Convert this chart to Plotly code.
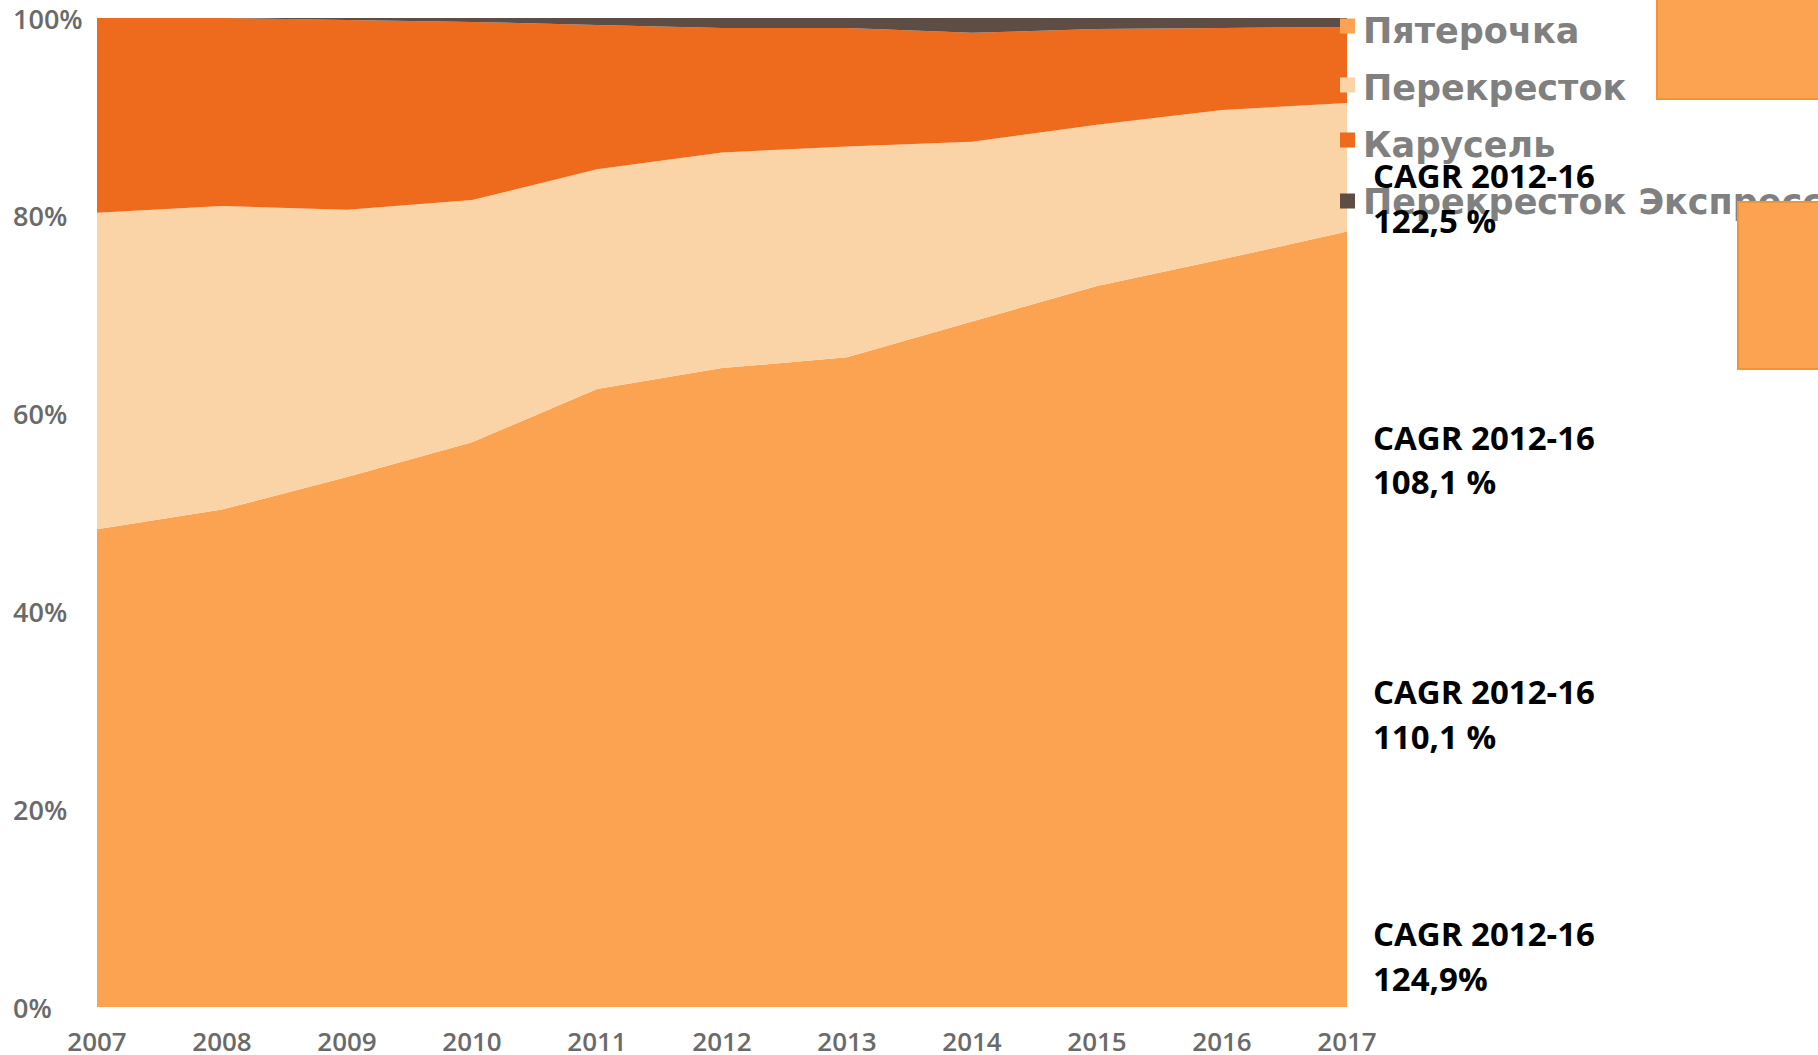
import plotly.graph_objects as go

# ---- data (shares, % of total) ----
years = [2007, 2008, 2009, 2010, 2011, 2012, 2013, 2014, 2015, 2016, 2017]
pyaterochka = [48.3, 50.3, 53.6, 57.1, 62.5, 64.6, 65.7, 69.3, 72.9, 75.6, 78.4]
perekrestok = [32.0, 30.7, 27.0, 24.5, 22.2, 21.8, 21.3, 18.2, 16.3, 15.1, 13.0]
karusel = [19.7, 19.0, 19.2, 18.0, 14.6, 12.6, 12.0, 11.0, 9.7, 8.3, 7.7]
express = [0.0, 0.0, 0.2, 0.4, 0.7, 1.0, 1.0, 1.5, 1.1, 1.0, 0.9]

series_names = ["Пятерочка", "Перекресток", "Карусель", "Перекресток Экспресс"]
series_values = [pyaterochka, perekrestok, karusel, express]
series_colors = ["#FBA350", "#FAD3A6", "#EE6A1C", "#5E4D44"]

y_tickvals = [0, 20, 40, 60, 80, 100]
y_ticktext = ["0%", "20%", "40%", "60%", "80%", "100%"]

cagr_lines = [
    ("CAGR 2012-16", "122,5 %"),
    ("CAGR 2012-16", "108,1 %"),
    ("CAGR 2012-16", "110,1 %"),
    ("CAGR 2012-16", "124,9%"),
]

# ---- geometry (pixels) ----
W, H = 1818, 1055
L, R, T, B = 97, 1347, 18, 1007


def px(xp):
    return (xp - L) / (R - L)


def py(yp):
    return (B - yp) / (B - T)


fig = go.Figure()
for name, vals, col in zip(series_names, series_values, series_colors):
    fig.add_trace(go.Scatter(
        x=years, y=vals, name=name, stackgroup="one", mode="none",
        fillcolor=col, line=dict(width=0), showlegend=False,
        hoverinfo="x+y+name",
    ))

shapes = []
annotations = []

# y-axis tick labels (left aligned, placed on the y scale)
for v, t in zip(y_tickvals, y_ticktext):
    annotations.append(dict(
        text=t, xref="paper", yref="y", x=px(11), y=v,
        xanchor="left", yanchor="middle", showarrow=False,
        font=dict(family="Open Sans", size=27, color="#6a6a6a", weight=600),
    ))

# custom legend: markers + labels
marker_centers = [26, 85, 140, 201]
label_centers = [31, 88, 145, 202]
for name, col, mc, lc in zip(series_names, series_colors, marker_centers, label_centers):
    shapes.append(dict(
        type="rect", xref="paper", yref="paper", layer="above",
        x0=px(1340), x1=px(1355), y0=py(mc + 7.5), y1=py(mc - 7.5),
        fillcolor=col, line=dict(width=0),
    ))
    annotations.append(dict(
        text=name, xref="paper", yref="paper", x=px(1361), y=py(lc),
        xanchor="left", yanchor="middle", showarrow=False,
        font=dict(family="DejaVu Sans", size=35, color="#808080", weight="bold"),
    ))

# CAGR labels
cagr_y = [(176, 221), (437, 481), (691, 736), (933, 978)]
for (l1, l2), (y1, y2) in zip(cagr_lines, cagr_y):
    for txt, yy in ((l1, y1), (l2, y2)):
        annotations.append(dict(
            text=txt, xref="paper", yref="paper", x=px(1371), y=py(yy),
            xanchor="left", yanchor="middle", showarrow=False,
            font=dict(family="Open Sans", size=33, color="#000000", weight="bold"),
        ))

# orange boxes on the right (drawn last so they cover the legend text)
for (x0, y0, x1, y1) in [(1656, -10, 1840, 100), (1737, 201, 1840, 370)]:
    annotations.append(dict(
        text="&nbsp;", xref="paper", yref="paper", x=px(x0), y=py(y0),
        xanchor="left", yanchor="top", showarrow=False,
        width=x1 - x0 - 4, height=y1 - y0 - 4, borderpad=0, borderwidth=2,
        bgcolor="#FBA350", bordercolor="#F39433",
        font=dict(size=10, color="#FBA350"),
    ))

fig.update_layout(
    template="none",
    width=W, height=H,
    margin=dict(l=L, r=W - R, t=T, b=H - B, pad=0),
    paper_bgcolor="white", plot_bgcolor="white",
    showlegend=False,
    shapes=shapes, annotations=annotations,
    xaxis=dict(
        range=[2007, 2017], tickvals=years, ticktext=[str(y) for y in years],
        showgrid=False, zeroline=False, showline=False,
        ticks="outside", ticklen=12, tickcolor="rgba(0,0,0,0)",
        tickfont=dict(family="Open Sans", size=26, color="#6a6a6a", weight=600),
        ticklabeloverflow="allow", automargin=False,
    ),
    yaxis=dict(
        range=[0, 100], tickvals=y_tickvals, showticklabels=False,
        showgrid=False, zeroline=False, showline=False, ticks="",
        automargin=False,
    ),
)

fig.write_html(
    "out.html",
    config={"displayModeBar": False},
    post_script="document.body.style.margin='0';document.body.style.overflow='hidden';",
)
